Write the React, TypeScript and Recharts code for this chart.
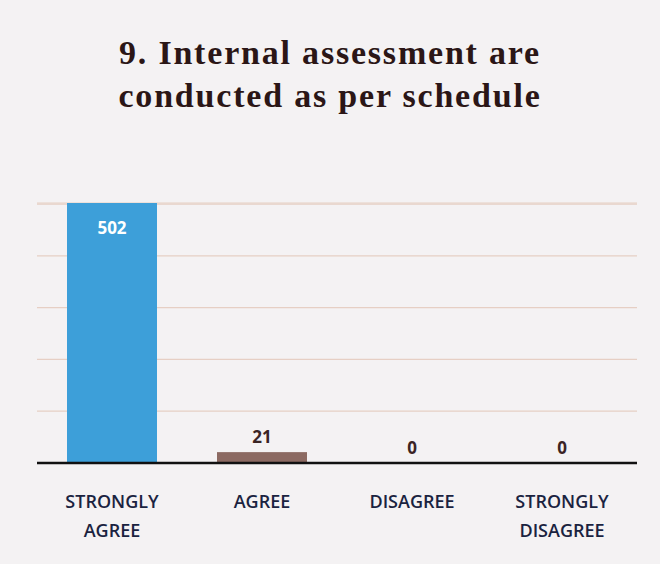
import React from 'react';
import { BarChart, Bar, XAxis, YAxis, CartesianGrid } from 'recharts';

const categories = ['STRONGLY AGREE', 'AGREE', 'DISAGREE', 'STRONGLY DISAGREE'];
const responses = [502, 21, 0, 0];
const gridTicks = [0, 100, 200, 300, 400, 500];
const barColors = ['#3d9fd9', '#8c6a62', '#8c6a62', '#8c6a62'];

const data = categories.map((name, i) => ({ name, value: responses[i], color: barColors[i] }));

const WrappedTick = (props: any) => {
  const { x, y, payload } = props;
  const words: string[] = String(payload.value).split(' ');
  return (
    <g transform={`translate(${x},${y})`}>
      {words.map((w, i) => (
        <text
          key={i}
          x={0}
          y={37 + i * 29}
          textAnchor="middle"
          fill="#1a2340"
          fontSize={18}
          fontWeight={600}
          fontFamily="'Open Sans', sans-serif"
        >
          {w}
        </text>
      ))}
    </g>
  );
};

// bar rect plus its value label, so zero bars still get their "0"
const BarWithLabel = (props: any) => {
  const { x, y, width, height, value, payload } = props;
  const v = Array.isArray(value) ? value[1] - value[0] : value;
  const inside = v > 100;
  return (
    <g>
      {height > 0 && <rect x={x} y={y} width={width} height={height} fill={payload.color} />}
      <text
        x={x + width / 2}
        y={inside ? y + 31 : y - 9}
        textAnchor="middle"
        fill={inside ? '#ffffff' : '#3a2424'}
        fontSize={17}
        fontWeight={700}
        fontFamily="'Open Sans', sans-serif"
      >
        {payload.value}
      </text>
    </g>
  );
};

export default function App() {
  return (
    <div
      style={{
        position: 'absolute',
        left: 0,
        top: 0,
        width: 660,
        height: 564,
        background: '#f4f2f3',
      }}
    >
      <div
        style={{
          position: 'absolute',
          left: 0,
          top: 31,
          width: 660,
          textAlign: 'center',
          fontFamily: "'Liberation Serif', serif",
          fontWeight: 700,
          fontSize: 34,
          lineHeight: '43px',
          letterSpacing: 1.8,
          color: '#2b1616',
        }}
      >
        9. Internal assessment are
        <br />
        conducted as per schedule
      </div>
      <BarChart
        width={660}
        height={564}
        data={data}
        margin={{ top: 203, right: 23, bottom: 11, left: 37 }}
      >
        <CartesianGrid horizontal vertical={false} stroke="#e6cfc4" strokeWidth={1.2} />
        <XAxis
          dataKey="name"
          height={90}
          tickLine={false}
          axisLine={{ stroke: '#111111', strokeWidth: 2.5 }}
          tick={<WrappedTick />}
          interval={0}
        />
        <YAxis hide domain={[0, 'dataMax']} ticks={gridTicks} />
        <Bar dataKey="value" barSize={90} isAnimationActive={false} shape={<BarWithLabel />} />
      </BarChart>
    </div>
  );
}
